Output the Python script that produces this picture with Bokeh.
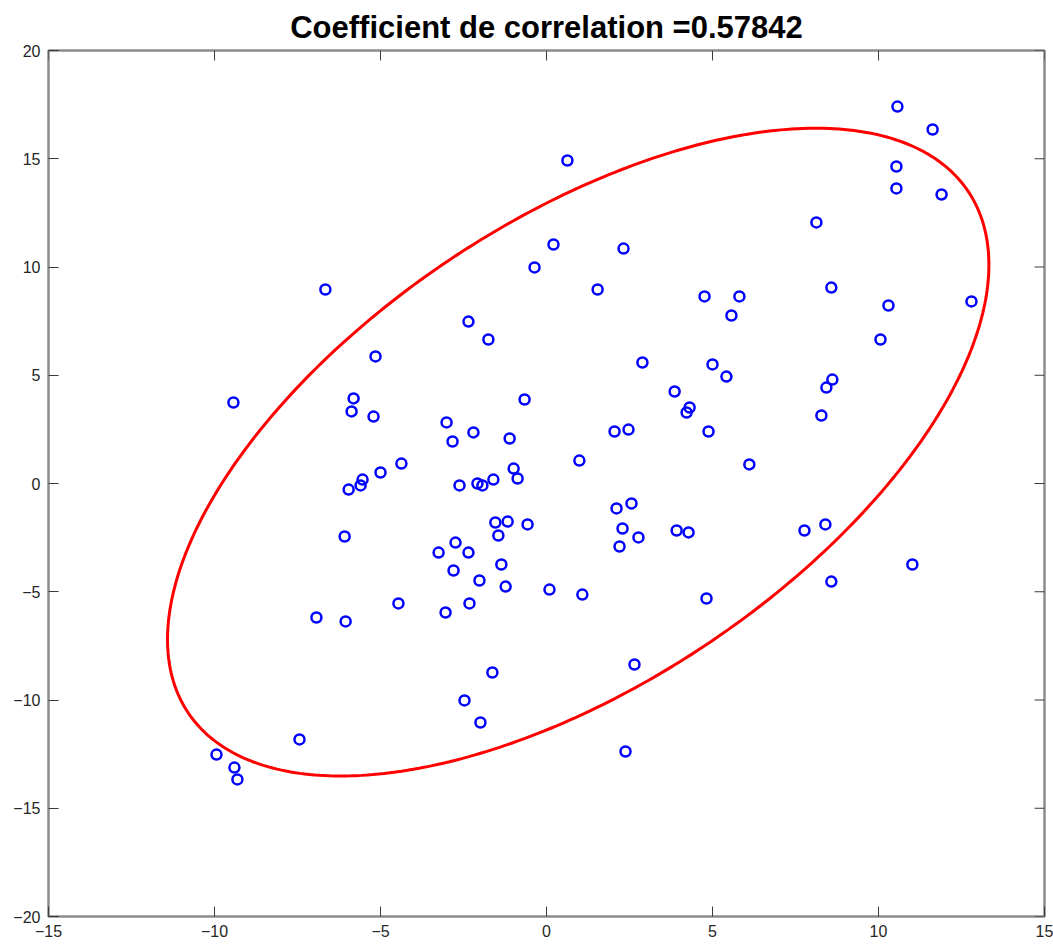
import numpy as np
from bokeh.plotting import figure
from bokeh.models import Range1d, FixedTicker
from bokeh.embed import file_html
from bokeh.resources import INLINE

# Sample values
x_vals = [10.57, 11.63, 10.54, 10.54, 11.90, 0.63, 8.13, 0.21, 2.32, -0.36,
          1.54, -6.66, 4.76, 5.81, 8.58, 5.57, 10.30, 12.80, -2.35, -1.75,
          10.06, -5.15, 2.89, 5.00, 5.42, 8.61, 8.43, -9.43, -5.81, -5.87,
          -5.21, -0.66, 3.86, 4.31, 4.22, -3.01, -2.20, -2.83, -1.11, 2.05,
          2.47, 4.88, 8.28, -4.37, -5.00, -5.54, -5.60, -5.96, -2.62, -2.08,
          -1.93, -1.60, -0.99, -0.87, 0.99, 6.11, -1.54, -1.17, -0.57, -1.45,
          -6.08, -2.74, -3.25, -2.35, -1.36, -2.80, -2.02, -1.23, 2.11, 2.56,
          2.29, 2.20, 2.77, 3.92, 4.28, 7.77, 8.40, 11.02, 8.58, 4.82,
          0.09, 1.08, -4.46, -2.32, -3.04, -6.93, -6.05, 2.65, -1.63, -2.47,
          -1.99, -7.44, -9.94, -9.40, -9.31, 2.38]
y_vals = [17.41, 16.35, 14.64, 13.63, 13.35, 14.92, 12.06, 11.04, 10.85, 9.98,
          8.96, 8.96, 8.64, 8.64, 9.05, 7.76, 8.22, 8.41, 7.48, 6.65,
          6.65, 5.87, 5.59, 5.50, 4.94, 4.80, 4.43, 3.74, 3.93, 3.33,
          3.09, 3.88, 4.25, 3.51, 3.28, 2.82, 2.36, 1.94, 2.08, 2.40,
          2.49, 2.40, 3.14, 0.92, 0.51, 0.18, -0.09, -0.28, -0.09, 0.00,
          -0.09, 0.18, 0.69, 0.23, 1.06, 0.88, -1.80, -1.76, -1.89, -2.40,
          -2.45, -2.73, -3.19, -3.19, -3.74, -4.02, -4.48, -4.76, -1.15, -0.92,
          -2.08, -2.91, -2.49, -2.17, -2.26, -2.17, -1.89, -3.74, -4.53, -5.31,
          -4.90, -5.13, -5.54, -5.54, -5.96, -6.19, -6.37, -8.36, -8.73, -10.02,
          -11.04, -11.82, -12.52, -13.12, -13.67, -12.38]

x_ticks = [-15, -10, -5, 0, 5, 10, 15]
y_ticks = [-20, -15, -10, -5, 0, 5, 10, 15, 20]
x_lim = (-15, 15)
y_lim = (-20, 20)

# Correlation coefficient and confidence ellipse parameters
corr = 0.57842
ell_center_x = 0.955
ell_center_y = 1.45
ell_half_x = 12.37
ell_half_y = 14.96

TICK_COLOR = "#3a3a3a"
TICK_LEN = 10

p = figure(width=1053, height=945,
           x_range=Range1d(*x_lim), y_range=Range1d(*y_lim),
           output_backend="svg", toolbar_location=None,
           min_border_left=48, min_border_right=9,
           min_border_top=50, min_border_bottom=29,
           title=f"Coefficient de correlation ={corr}")

p.background_fill_color = "white"
p.border_fill_color = "white"
p.xgrid.visible = False
p.ygrid.visible = False
p.outline_line_color = "#8c8c8c"
p.outline_line_width = 2.5
p.outline_line_alpha = 1.0

p.title.align = "center"
p.title.text_font = "Liberation Sans"
p.title.text_font_size = "31px"
p.title.text_font_style = "bold"
p.title.text_color = "black"
p.title.standoff = 12
p.title.offset = 0

p.xaxis.ticker = FixedTicker(ticks=x_ticks)
p.yaxis.ticker = FixedTicker(ticks=y_ticks)
for ax in (p.xaxis[0], p.yaxis[0]):
    ax.axis_line_color = None
    ax.major_tick_in = TICK_LEN
    ax.major_tick_out = 0
    ax.major_tick_line_color = TICK_COLOR
    ax.major_tick_line_width = 1
    ax.minor_tick_line_color = None
    ax.major_label_text_font = "Liberation Sans"
    ax.major_label_text_font_size = "16px"
    ax.major_label_text_color = "#262626"
    ax.major_label_standoff = 8

# Inward ticks along the top and right edges of the box
p.ray(x=x_ticks, y=[y_lim[1]] * len(x_ticks), length=TICK_LEN, length_units="screen",
      angle=-np.pi / 2, line_color=TICK_COLOR, line_width=1)
p.ray(x=[x_lim[1]] * len(y_ticks), y=y_ticks, length=TICK_LEN, length_units="screen",
      angle=np.pi, line_color=TICK_COLOR, line_width=1)

# Data points
p.scatter(x_vals, y_vals, marker="circle", size=10,
          fill_color=None, line_color="#0000ff", line_width=2.5)

# Ellipse built from the half extents and the correlation coefficient
t = np.linspace(0, 2 * np.pi, 400)
ex = ell_center_x + ell_half_x * np.cos(t)
ey = ell_center_y + ell_half_y * (corr * np.cos(t) + np.sqrt(1 - corr ** 2) * np.sin(t))
p.line(ex, ey, line_color="#ff0000", line_width=3)

open("out.html", "w").write(file_html(p, INLINE))
